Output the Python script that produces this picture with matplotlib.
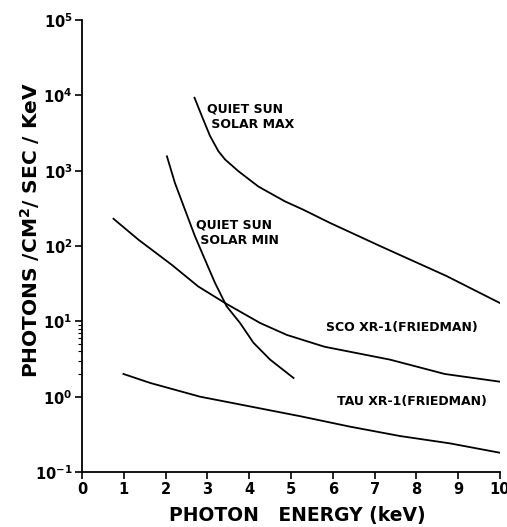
import numpy as np
import matplotlib
matplotlib.use("Agg")
import matplotlib.pyplot as plt
from matplotlib.ticker import FixedLocator, NullFormatter

# values (energy in keV, photons/cm2/sec/keV)
solar_max_E = [2.69, 2.86, 3.06, 3.26, 3.42, 3.74, 4.22, 4.86, 5.29, 5.93, 7.13, 8.72, 10.0]
solar_max_F = [9300, 5400, 2900, 1820, 1410, 985, 615, 390, 304, 203, 100, 40, 17.5]

solar_min_E = [2.03, 2.22, 2.46, 2.70, 2.94, 3.18, 3.46, 3.78, 4.10, 4.50, 5.06]
solar_min_F = [1550, 690, 305, 135, 66, 32.4, 15.8, 9.5, 5.2, 3.1, 1.77]

sco_E = [0.75, 1.35, 2.15, 2.78, 3.42, 4.26, 4.90, 5.80, 7.37, 8.68, 10.0]
sco_F = [230, 121, 56, 29, 17.5, 9.5, 6.6, 4.6, 3.1, 2.0, 1.58]

tau_E = [0.99, 1.63, 2.82, 5.22, 6.41, 7.61, 8.8, 10.0]
tau_F = [2.0, 1.52, 1.0, 0.55, 0.40, 0.30, 0.24, 0.18]

xticks = list(range(0, 11))
yticks = [1e-1, 1e0, 1e1, 1e2, 1e3, 1e4, 1e5]
ytick_labels = [r"$\mathbf{10^{-1}}$", r"$\mathbf{10^{0}}$", r"$\mathbf{10^{1}}$",
                r"$\mathbf{10^{2}}$", r"$\mathbf{10^{3}}$", r"$\mathbf{10^{4}}$",
                r"$\mathbf{10^{5}}$"]

fig = plt.figure(figsize=(5.07, 5.27), dpi=100)
ax = fig.add_axes([0.162, 0.1044, 0.824, 0.8576])

for E, F in [(solar_max_E, solar_max_F), (solar_min_E, solar_min_F),
             (sco_E, sco_F), (tau_E, tau_F)]:
    ax.plot(E, F, "k-", lw=1.3, solid_joinstyle="round")

ax.set_yscale("log")
ax.set_xlim(0, 10)
ax.set_ylim(1e-1, 1e5)
ax.spines["top"].set_visible(False)
ax.spines["right"].set_visible(False)
ax.spines["left"].set_linewidth(1.3)
ax.spines["bottom"].set_linewidth(1.3)

ax.set_xticks(xticks)
ax.set_xticklabels([str(t) for t in xticks], fontweight="bold", fontsize=10.5)
ax.set_yticks(yticks)
ax.set_yticklabels(ytick_labels, fontsize=10.5)
ax.yaxis.set_minor_locator(FixedLocator([2, 3, 4, 5, 6, 7, 8, 9]))
ax.yaxis.set_minor_formatter(NullFormatter())
ax.tick_params(axis="y", which="minor", direction="out", length=3, width=0.8)
ax.tick_params(axis="both", which="major", direction="out", length=5, width=1.2, pad=2)

ax.set_xlabel("PHOTON   ENERGY (keV)", fontsize=13.5, fontweight="bold")
ax.xaxis.set_label_coords(0.515, -0.075)
ax.set_ylabel(r"PHOTONS /CM$\mathbf{^2}$/ SEC / KeV", fontsize=14.5, fontweight="bold")
ax.yaxis.set_label_coords(-0.095, 0.535)

ax.text(3.0, 10**3.72, "QUIET SUN\n SOLAR MAX", fontsize=9, fontweight="bold",
        va="center", ha="left", linespacing=1.25)
ax.text(2.73, 10**2.18, "QUIET SUN\n SOLAR MIN", fontsize=9, fontweight="bold",
        va="center", ha="left", linespacing=1.25)
ax.text(5.84, 10**0.92, "SCO XR-1(FRIEDMAN)", fontsize=9, fontweight="bold",
        va="center", ha="left")
ax.text(6.1, 10**-0.07, "TAU XR-1(FRIEDMAN)", fontsize=9, fontweight="bold",
        va="center", ha="left")

fig.savefig("out.png", dpi=100)
